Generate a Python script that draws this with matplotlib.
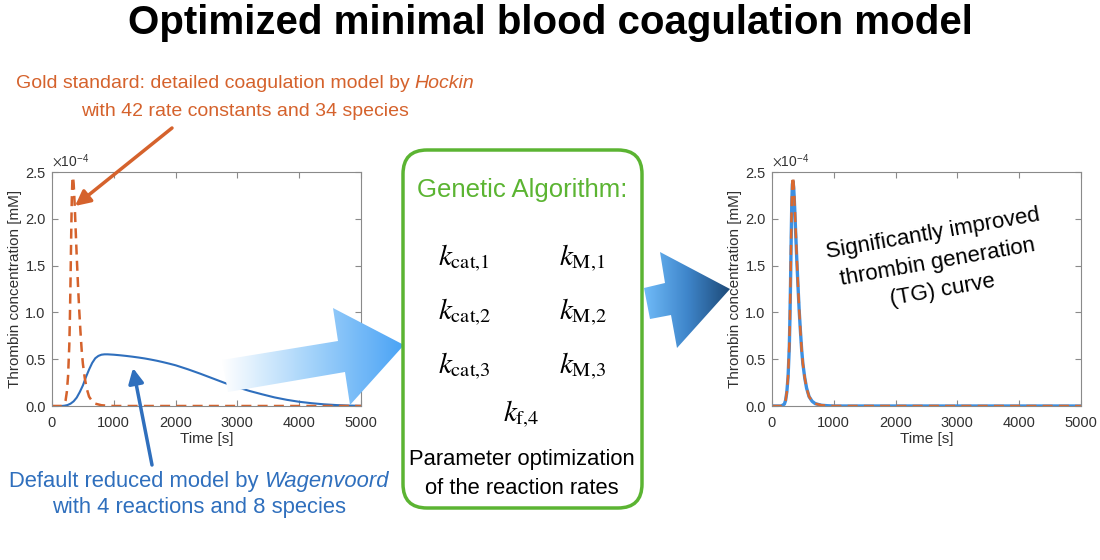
import numpy as np
import matplotlib
matplotlib.use('Agg')
from matplotlib import pyplot as plt
from matplotlib.patches import Polygon, FancyBboxPatch
from matplotlib.colors import LinearSegmentedColormap
from matplotlib.ticker import FuncFormatter

plt.rcParams['font.family'] = ['Liberation Sans', 'DejaVu Sans']
plt.rcParams['mathtext.fontset'] = 'stix'

# thrombin curves, values in units of 1e-4 mM
time_fast = [0, 100, 150, 200, 220, 240, 260, 280, 290, 300, 310, 320, 330, 340, 350, 360, 370, 380, 400, 420,
             440, 460, 480, 500, 530, 560, 600, 650, 700, 800, 900, 1000, 2000, 3000, 4000, 5000]
hockin = [0, 0, 0, 0.02, 0.06, 0.15, 0.32, 0.65, 0.95, 1.35, 1.8, 2.2, 2.42, 2.45, 2.38, 2.25, 2.1, 1.93, 1.6, 1.3,
          1.03, 0.8, 0.6, 0.45, 0.3, 0.19, 0.1, 0.05, 0.025, 0.008, 0.003, 0, 0, 0, 0, 0]
optimized = [0, 0, 0, 0.02, 0.06, 0.15, 0.31, 0.63, 0.93, 1.32, 1.76, 2.16, 2.37, 2.4, 2.34, 2.22, 2.07, 1.9, 1.58,
             1.29, 1.02, 0.8, 0.6, 0.45, 0.3, 0.19, 0.1, 0.05, 0.025, 0.008, 0.003, 0, 0, 0, 0, 0]

time_slow = [0, 150, 200, 250, 300, 350, 400, 450, 500, 550, 600, 650, 700, 750, 800, 850, 900, 1000, 1100, 1200,
             1300, 1400, 1500, 1600, 1700, 1800, 1900, 2000, 2200, 2400, 2600, 2800, 3000, 3200, 3400, 3600, 3800,
             4000, 4200, 4400, 4600, 4800, 5000]
wagenvoord = [0, 0, 0.003, 0.01, 0.025, 0.05, 0.09, 0.15, 0.22, 0.31, 0.39, 0.46, 0.51, 0.535, 0.548, 0.552, 0.552,
              0.548, 0.542, 0.535, 0.527, 0.518, 0.508, 0.496, 0.483, 0.468, 0.452, 0.435, 0.392, 0.345, 0.295,
              0.245, 0.2, 0.16, 0.125, 0.092, 0.066, 0.045, 0.03, 0.018, 0.01, 0.005, 0.002]

x_ticks = [0, 1000, 2000, 3000, 4000, 5000]
y_ticks = [0, 0.5, 1.0, 1.5, 2.0, 2.5]

ORANGE = '#d5622c'
BLUE = '#2f6fbd'
GREEN = '#5bb432'
W, H = 1100, 560

fig = plt.figure(figsize=(11, 5.6), dpi=100)


def style_axes(ax):
    ax.set_xlim(0, 5000)
    ax.set_ylim(0, 2.5)
    ax.set_xticks(x_ticks)
    ax.set_yticks(y_ticks)
    ax.yaxis.set_major_formatter(FuncFormatter(lambda v, p: '%.1f' % v))
    ax.tick_params(direction='in', top=True, right=True, length=4, width=0.8,
                   labelsize=10.5, colors='#8a8a8a', labelcolor='#303030', pad=4.5)
    ax.tick_params(axis='x', pad=7)
    for s in ax.spines.values():
        s.set_color('#8a8a8a')
        s.set_linewidth(0.8)
    ax.set_xlabel('Time [s]', fontsize=11, color='#303030', labelpad=2)
    ax.set_ylabel('Thrombin concentration [mM]', fontsize=11, color='#303030', labelpad=2)
    ax.text(0.0, 1.01, r'$\times$10$^{\mathregular{-4}}$', transform=ax.transAxes,
            fontsize=10, color='#303030', ha='left', va='bottom')


# left plot: default models
ax1 = fig.add_axes([52 / W, 1 - 406 / H, 309 / W, 234 / H])
ax1.plot(time_slow, wagenvoord, color=BLUE, lw=1.5)
ax1.plot(time_fast, hockin, color=ORANGE, lw=1.8, ls=(0, (4, 2.5)))
style_axes(ax1)

# right plot: optimized model
ax2 = fig.add_axes([772 / W, 1 - 406 / H, 309 / W, 234 / H])
ax2.plot(time_fast, optimized, color='#3d8fe0', lw=2.4)
ax2.plot(time_fast, hockin, color='#d9692f', lw=1.8, ls=(0, (4, 2.5)))
style_axes(ax2)

# overlay in pixel coordinates for annotations
ov = fig.add_axes([0, 0, 1, 1], zorder=5)
ov.set_xlim(0, W)
ov.set_ylim(H, 0)
ov.axis('off')
ov.patch.set_visible(False)


def gradient_arrow(pts, colors):
    poly = Polygon(pts, closed=True, fc='none', ec='none')
    ov.add_patch(poly)
    xs = [p[0] for p in pts]
    ys = [p[1] for p in pts]
    grad = np.linspace(0, 1, 256).reshape(1, -1)
    cmap = LinearSegmentedColormap.from_list('g', colors)
    im = ov.imshow(grad, cmap=cmap, extent=(min(xs), max(xs), max(ys), min(ys)),
                   aspect='auto', interpolation='bicubic')
    im.set_clip_path(poly)


gradient_arrow([(222, 360), (338, 341), (333, 308), (404, 345), (350, 405), (345, 372), (228, 392)],
               ['#ffffff', '#a2d2fa', '#4aa3f5'])
gradient_arrow([(644, 288), (665, 283), (660, 252), (730, 289), (677, 348), (671, 315), (650, 319)],
               ['#70bbf8', '#3f86cb', '#1d4a78'])

# green box
box = FancyBboxPatch((403, 150), 239, 358, boxstyle='round,pad=0,rounding_size=24',
                     fc='none', ec=GREEN, lw=2.5)
ov.add_patch(box)

ov.set_xlim(0, W)
ov.set_ylim(H, 0)

# annotation arrows
ov.annotate('', xy=(75, 206), xytext=(172, 128),
            arrowprops=dict(arrowstyle='-|>,head_length=0.9,head_width=0.45', color=ORANGE, lw=2.5,
                            shrinkA=0, shrinkB=0))
ov.annotate('', xy=(133, 368), xytext=(152, 465),
            arrowprops=dict(arrowstyle='-|>,head_length=0.9,head_width=0.45', color=BLUE, lw=2.5,
                            shrinkA=0, shrinkB=0))

# texts
ov.text(550, 23, 'Optimized minimal blood coagulation model', fontsize=29, fontweight='bold',
        ha='center', va='center')

renderer = fig.canvas.get_renderer()


def mixed_line(xc, yc, parts, color, size):
    texts = [ov.text(0, yc, s, style=st, color=color, fontsize=size, ha='left', va='center')
             for s, st in parts]
    widths = [t.get_window_extent(renderer).width for t in texts]
    left = xc - sum(widths) / 2
    for t, w in zip(texts, widths):
        t.set_x(left)
        left += w


mixed_line(245, 84, [('Gold standard: detailed coagulation model by ', 'normal'), ('Hockin', 'italic')],
           ORANGE, 14)
mixed_line(245, 112, [('with 42 rate constants and 34 species', 'normal')], ORANGE, 14)
mixed_line(199, 482, [('Default reduced model by ', 'normal'), ('Wagenvoord', 'italic')], BLUE, 15.8)
mixed_line(199, 508, [('with 4 reactions and 8 species', 'normal')], BLUE, 15.8)

ov.text(522, 190, 'Genetic Algorithm:', fontsize=18.5, color=GREEN, ha='center', va='center')
k_left = [r'$k_{\mathrm{cat{,}1}}$', r'$k_{\mathrm{cat{,}2}}$', r'$k_{\mathrm{cat{,}3}}$']
k_right = [r'$k_{\mathrm{M{,}1}}$', r'$k_{\mathrm{M{,}2}}$', r'$k_{\mathrm{M{,}3}}$']
for i, (kl, kr) in enumerate(zip(k_left, k_right)):
    yy = 258 + i * 54
    ov.text(438, yy, kl, fontsize=21, ha='left', va='center')
    ov.text(559, yy, kr, fontsize=21, ha='left', va='center')
ov.text(503, 414, r'$k_{\mathrm{f{,}4}}$', fontsize=21, ha='left', va='center')
ov.text(522, 460, 'Parameter optimization', fontsize=15.8, ha='center', va='center')
ov.text(522, 488, 'of the reaction rates', fontsize=15.8, ha='center', va='center')

ov.text(938, 262, 'Significantly improved\nthrombin generation\n(TG) curve', fontsize=16,
        ha='center', va='center', rotation=10, linespacing=1.5, rotation_mode='anchor')

fig.savefig('out.png', dpi=100)
